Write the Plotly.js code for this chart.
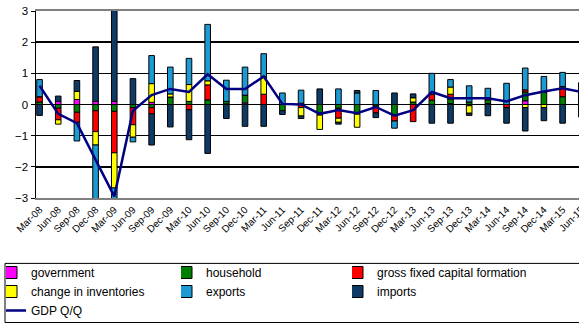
<!DOCTYPE html>
<html>
<head>
<meta charset="utf-8">
<script src="https://cdn.plot.ly/plotly-3.0.1.min.js"></script>
<style>
html, body { margin: 0; padding: 0; overflow: hidden; background: #fff; }
#chart { width: 700px; height: 325px; }
</style>
</head>
<body>
<div id="chart"></div>
<script>
const quarters = ["Mar-08","Jun-08","Sep-08","Dec-08","Mar-09","Jun-09","Sep-09","Dec-09","Mar-10","Jun-10",
  "Sep-10","Dec-10","Mar-11","Jun-11","Sep-11","Dec-11","Mar-12","Jun-12","Sep-12","Dec-12",
  "Mar-13","Jun-13","Sep-13","Dec-13","Mar-14","Jun-14","Sep-14","Dec-14","Mar-15","Jun-15"];

const government = [0, 0.1, 0.16, 0.1, 0.1, 0, 0.07, 0, 0, 0,
  0.02, 0.05, 0, 0, 0.02, 0, 0, 0, 0, 0,
  0, 0, 0.03, 0, 0.03, 0, 0.12, 0, 0, 0];
const household = [0.08, -0.12, -0.25, -0.2, -0.22, -0.1, -0.1, 0.24, 0.1, 0.15,
  0.08, 0.25, 0, -0.2, 0.02, -0.28, -0.12, -0.28, -0.05, -0.33,
  0.08, 0.14, 0.15, 0.08, 0.12, 0, 0.28, 0.4, 0.25, 0.2];
const gfcf = [0.17, -0.37, -0.32, -0.67, -1.33, -0.55, -0.2, 0, -0.17, 0.48,
  0, 0, 0.33, 0, -0.1, -0.06, -0.32, -0.03, -0.22, -0.2,
  -0.55, 0.18, 0.15, -0.04, 0.07, -0.1, 0.07, 0, 0.28, 0.1];
const inventories = [0, -0.14, 0.26, -0.43, -1.13, -0.4, 0.6, 0.1, 0.54, 0.13,
  0, 0, 0.57, 0, -0.27, -0.46, -0.13, -0.42, 0, 0,
  0.14, 0, 0.23, -0.24, 0, 0, -0.1, -0.1, 0.05, 0];
const exportsQ = [0.55, 0, -0.6, -2.0, -0.6, -0.15, 0.9, 0.86, 0.84, 1.81,
  0.68, 0.9, 0.73, 0.37, 0.42, 0, 0.5, 0.37, 0.45, -0.23,
  0, 0.68, 0.24, 0.52, 0.3, 0.68, 0.7, 0.5, 0.45, 0.4];
const importsQ = [-0.35, 0.17, 0.35, 1.75, 3.3, 0.83, -1.0, -0.72, -0.96, -1.57,
  -0.45, -0.7, -0.7, -0.12, -0.08, 0.5, -0.06, 0.08, -0.15, 0.37,
  0.12, -0.6, -0.6, -0.07, -0.36, -0.5, -0.75, -0.42, -0.6, -0.4];
const gdpQQ = [0.6, -0.3, -0.6, -1.8, -2.95, -0.2, 0.3, 0.5, 0.4, 0.97,
  0.5, 0.5, 0.9, 0.02, 0.0, -0.3, -0.18, -0.28, -0.08, -0.36,
  -0.18, 0.4, 0.2, 0.2, 0.2, 0.1, 0.3, 0.42, 0.52, 0.4];

const seriesNames = ["government","household","gross fixed capital formation","change in inventories","exports","imports"];
const seriesData = [government, household, gfcf, inventories, exportsQ, importsQ];
const seriesColors = ["#FF00FF","#008000","#FF0000","#FFFF00","#1B9AD4","#0E3A66"];
// legend column of each entry (reference legend is a 3-column grid)
const seriesLegend = ["legend","legend2","legend3","legend","legend2","legend3"];

const idx = quarters.map((q, i) => i);

const traces = seriesNames.map((name, k) => ({
  type: "bar",
  name: name,
  x: idx,
  y: seriesData[k],
  width: 0.3,
  legend: seriesLegend[k],
  marker: { color: seriesColors[k], line: { color: "#000", width: 1 } }
}));
traces.push({
  type: "scatter",
  mode: "lines",
  name: "GDP Q/Q",
  x: idx,
  y: gdpQQ,
  legend: "legend",
  line: { color: "#000080", width: 2.5 }
});

// plot area geometry (px)
const W = 700, H = 325;
const plotL = 36, plotR = 40, plotT = 11, plotB = 127.3;
const plotW = W - plotL - plotR, plotH = H - plotT - plotB;
const catPx = 18.68;
const px2paperX = p => (p - plotL) / plotW;
const py2paperY = p => (plotT + plotH - p) / plotH;

function legendAt(xpx) {
  return {
    orientation: "v",
    traceorder: "normal",
    xref: "container", yref: "container",
    x: xpx / W, y: 1 - 258 / H, xanchor: "left", yanchor: "top",
    itemwidth: 30, indentation: -15,
    font: { size: 12, family: "Liberation Sans, Arial, sans-serif", color: "#000" },
    borderwidth: 0, bgcolor: "rgba(0,0,0,0)",
    tracegroupgap: 0
  };
}

const layout = {
  width: W, height: H,
  margin: { l: plotL, r: plotR, t: plotT, b: plotB, autoexpand: false },
  paper_bgcolor: "#fff", plot_bgcolor: "#fff",
  barmode: "relative",
  bargap: 0,
  font: { family: "Liberation Sans, Arial, sans-serif", size: 11, color: "#000" },
  showlegend: true,
  legend: legendAt(6),
  legend2: legendAt(181),
  legend3: legendAt(352),
  shapes: [{
    type: "rect", xref: "paper", yref: "paper",
    x0: px2paperX(5), x1: px2paperX(690),
    y0: py2paperY(263), y1: py2paperY(322),
    line: { color: "#000", width: 1 }, fillcolor: "rgba(0,0,0,0)"
  }],
  xaxis: {
    range: [-0.19, -0.19 + plotW / catPx],
    tickmode: "array", tickvals: idx, ticktext: quarters,
    tickangle: -45,
    tickfont: { size: 10 },
    showgrid: false, zeroline: false,
    showline: true, linecolor: "#808080", linewidth: 2, mirror: true,
    ticks: "", automargin: false
  },
  yaxis: {
    range: [-3, 3],
    tickvals: [-3, -2, -1, 0, 1, 2, 3],
    tickfont: { size: 11.5 },
    showgrid: true, gridcolor: "#000", gridwidth: 1.5,
    zeroline: true, zerolinecolor: "#000", zerolinewidth: 1.5,
    showline: true, linecolor: "#000", linewidth: 1.5,
    ticks: "outside", ticklen: 4, tickcolor: "#000", automargin: false
  }
};

Plotly.newPlot("chart", traces, layout, { displayModeBar: false, staticPlot: true });
</script>
</body>
</html>
